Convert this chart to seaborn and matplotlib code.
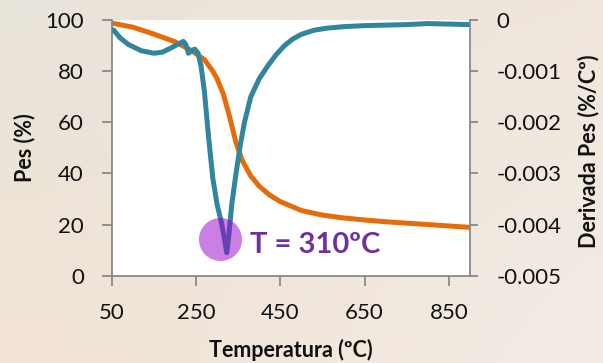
import numpy as np
import matplotlib
matplotlib.use("Agg")
import matplotlib.pyplot as plt
import seaborn as sns

# ---------------- data ----------------
temp_tg = [50, 100, 150, 200, 240, 270, 290, 300, 315, 330, 345, 360, 380, 400,
           425, 450, 500, 550, 600, 650, 700, 800, 900]
pes = [98.8, 97.2, 94.5, 91.5, 88.0, 84.5, 80.0, 77.0, 71.0, 62.0, 52.0, 45.0,
       39.0, 35.0, 31.5, 29.0, 25.5, 23.7, 22.6, 21.8, 21.1, 20.0, 18.9]

temp_dtg = [50, 55, 70, 90, 120, 150, 170, 190, 210, 220, 226, 232, 240, 247,
            255, 262, 270, 280, 290, 300, 310, 318, 323, 328, 335, 345, 355, 365,
            380, 400, 420, 440, 460, 480, 500, 530, 560, 600, 650, 700, 750, 800,
            850, 897]
deriv = [-0.00019, -0.00020, -0.00035, -0.00048, -0.00060, -0.00065, -0.00063,
         -0.00055, -0.00046, -0.00042, -0.00048, -0.00065, -0.00060, -0.00057,
         -0.00065, -0.00090, -0.00140, -0.00230, -0.00310, -0.00360, -0.00395,
         -0.00430, -0.00455, -0.00420, -0.00360, -0.00300, -0.00245, -0.00200,
         -0.00150, -0.00115, -0.00090, -0.00068, -0.00050, -0.00037, -0.00028,
         -0.00020, -0.00016, -0.00013, -0.00011, -0.00010, -0.00009, -0.00007,
         -0.00008, -0.00009]

x_ticks = [50, 250, 450, 650, 850]
left_ticks = [0, 20, 40, 60, 80, 100]
right_ticks = [-0.005, -0.004, -0.003, -0.002, -0.001, 0]
right_ticklabels = ["-0.005", "-0.004", "-0.003", "-0.002", "-0.001", "0"]

xlabel = "Temperatura (ºC)"
ylabel_left = "Pes (%)"
ylabel_right = "Derivada Pes (%/Cº)"
peak_label = "T = 310ºC"

# ---------------- style ----------------
sns.set_style("white")
plt.rcParams['font.family'] = ['Lato', 'DejaVu Sans']

orange = '#E46C0A'
teal = '#31859C'
gray = '#898989'

fig = plt.figure(figsize=(6.03, 3.63), dpi=100)

# background (beige gradient)
bg = fig.add_axes([0, 0, 1, 1], zorder=-10)
tl = np.array([232, 227, 218]) / 255
tr = np.array([240, 230, 220]) / 255
bl = np.array([241, 227, 212]) / 255
br = np.array([243, 236, 230]) / 255
yy, xx = np.mgrid[0:1:60j, 0:1:100j]
grad = ((1 - yy)[..., None] * ((1 - xx)[..., None] * tl + xx[..., None] * tr)
        + yy[..., None] * ((1 - xx)[..., None] * bl + xx[..., None] * br))
bg.imshow(grad, aspect='auto', extent=[0, 1, 0, 1], origin='upper')
bg.axis('off')

ax = fig.add_axes([0.1852, 0.2405, 0.5942, 0.7044])
ax.set_facecolor('white')
sns.lineplot(x=temp_tg, y=pes, ax=ax, color=orange, lw=3.6, sort=False)
ax.set_xlim(50, 900)
ax.set_ylim(0, 100)
ax.set_xticks(x_ticks)
ax.set_yticks(left_ticks)
ax.set_xlabel('')
ax.set_ylabel('')

ax2 = ax.twinx()
sns.lineplot(x=temp_dtg, y=deriv, ax=ax2, color=teal, lw=3.6, sort=False)
ax2.set_ylim(-0.005, 0)
ax2.set_yticks(right_ticks)
ax2.set_yticklabels(right_ticklabels)
ax2.set_ylabel('')

for a in (ax, ax2):
    for s in a.spines.values():
        s.set_color(gray)
        s.set_linewidth(1.3)
    a.spines['top'].set_visible(False)
ax.spines['right'].set_visible(False)
ax2.spines['left'].set_visible(False)
ax2.spines['bottom'].set_visible(False)

ax.tick_params(axis='both', direction='out', length=7, width=1.3, color=gray,
               labelsize=16, labelcolor='#111111', pad=13, bottom=True, left=True)
ax2.tick_params(axis='y', direction='out', length=6, width=1.3, color=gray,
                labelsize=16, labelcolor='#111111', pad=13, right=True)

# peak marker and label
ax2.plot([307], [14.5], marker='o', markersize=31, color='#9900CC', alpha=0.5,
         markeredgewidth=0, transform=ax.transData, clip_on=False)
ax2.text(378, 8.8, peak_label, transform=ax.transData, ha='left', va='baseline',
         fontsize=21, fontweight='bold', color='#7030A0')

# axis labels
fig.text(290.8 / 603, 1 - 357 / 363, xlabel, ha='center', va='baseline',
         fontsize=15.5, fontweight='bold', color='#111111')
fig.text(25 / 603, 1 - 148 / 363, ylabel_left, ha='center', va='center',
         rotation=90, fontsize=15.5, fontweight='bold', color='#111111')
fig.text(589 / 603, 1 - 151 / 363, ylabel_right, ha='center', va='center',
         rotation=90, fontsize=15.5, fontweight='bold', color='#111111')

fig.savefig('out.png', dpi=100)
